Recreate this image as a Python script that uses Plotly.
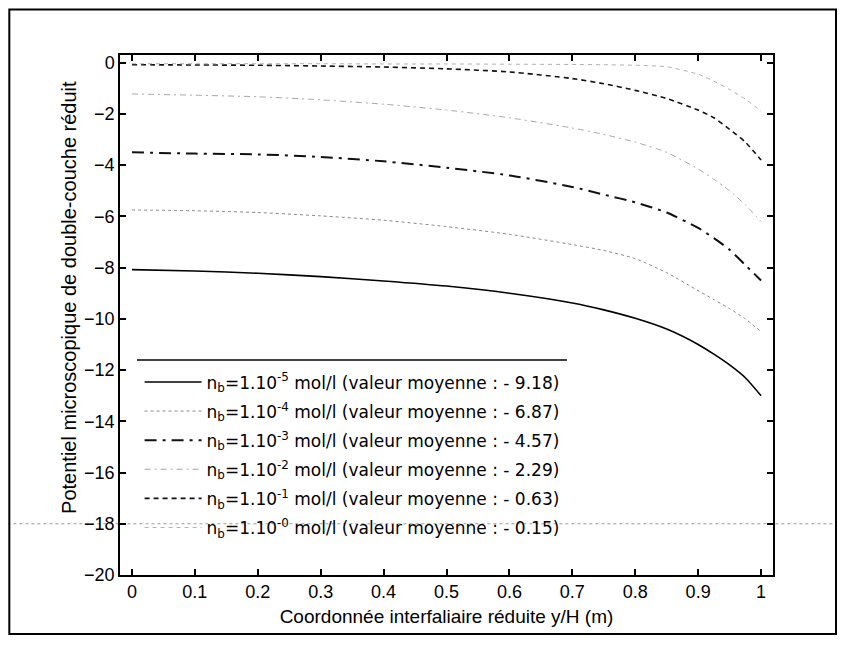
import plotly.graph_objects as go

# Reduced interfoliar coordinate y/H
x_vals = [0, 0.1, 0.2, 0.3, 0.4, 0.5, 0.6, 0.7, 0.75, 0.8, 0.85, 0.9, 0.925, 0.95, 0.975, 1.0]

# Reduced microscopic double-layer potential for each bulk concentration
pot_1e5 = [-8.08, -8.13, -8.22, -8.35, -8.52, -8.72, -9.0, -9.38, -9.65, -9.98, -10.4, -11.0, -11.38, -11.8, -12.3, -13.0]
pot_1e4 = [-5.75, -5.78, -5.85, -5.98, -6.15, -6.4, -6.7, -7.1, -7.33, -7.65, -8.2, -8.9, -9.25, -9.6, -10.0, -10.5]
pot_1e3 = [-3.5, -3.55, -3.58, -3.68, -3.85, -4.1, -4.4, -4.85, -5.15, -5.45, -5.85, -6.45, -6.85, -7.3, -7.9, -8.5]
pot_1e2 = [-1.22, -1.27, -1.33, -1.45, -1.62, -1.85, -2.15, -2.55, -2.8, -3.1, -3.5, -4.15, -4.55, -5.0, -5.55, -6.2]
pot_1e1 = [-0.08, -0.09, -0.1, -0.13, -0.17, -0.24, -0.36, -0.62, -0.82, -1.08, -1.4, -1.85, -2.15, -2.6, -3.1, -3.8]
pot_1e0 = [-0.04, -0.04, -0.04, -0.04, -0.05, -0.05, -0.06, -0.07, -0.08, -0.1, -0.16, -0.45, -0.72, -1.05, -1.42, -1.9]

exponents = ["-5", "-4", "-3", "-2", "-1", "-0"]
means = ["9.18", "6.87", "4.57", "2.29", "0.63", "0.15"]
series = [pot_1e5, pot_1e4, pot_1e3, pot_1e2, pot_1e1, pot_1e0]

x_ticks = [0, 0.1, 0.2, 0.3, 0.4, 0.5, 0.6, 0.7, 0.8, 0.9, 1]
x_ticktext = ["0", "0.1", "0.2", "0.3", "0.4", "0.5", "0.6", "0.7", "0.8", "0.9", "1"]
y_ticks = [0, -2, -4, -6, -8, -10, -12, -14, -16, -18, -20]

styles = [
    dict(color="#000000", width=1.6, dash="solid"),
    dict(color="#8a8a8a", width=1.0, dash="dot"),
    dict(color="#111111", width=2.0, dash="12px,6px,3px,6px"),
    dict(color="#a8a8a8", width=1.0, dash="6px,4px,2px,4px"),
    dict(color="#111111", width=1.6, dash="5px,4px"),
    dict(color="#b0b0b0", width=1.0, dash="4px,4px"),
]

fig = go.Figure()
for i, (vals, ex, mv, st) in enumerate(zip(series, exponents, means, styles)):
    name = f"n<sub>b</sub>=1.10<sup>{ex}</sup> mol/l (valeur moyenne : - {mv})"
    fig.add_trace(go.Scatter(
        x=x_vals, y=vals, mode="lines", name=name,
        line=dict(color=st["color"], width=st["width"], dash=st["dash"],
                  shape="spline", smoothing=0.6),
        legendgroup=f"g{i}",
    ))

font_family = "Arial, Liberation Sans, sans-serif"
legend_family = "DejaVu Sans, Verdana, sans-serif"

fig.update_layout(
    width=837, height=637, autosize=False,
    margin=dict(l=112, r=72, t=47, b=70),
    paper_bgcolor="white", plot_bgcolor="white",
    font=dict(family=font_family, size=16, color="black"),
    showlegend=True,
    legend=dict(
        x=0.03, y=0.405, xanchor="left", yanchor="top",
        bgcolor="rgba(0,0,0,0)", borderwidth=0,
        font=dict(size=17, family=legend_family),
        traceorder="grouped", tracegroupgap=4,
        itemwidth=57,
    ),
    xaxis=dict(
        range=[-0.019, 1.019], tickvals=x_ticks, ticktext=x_ticktext,
        ticks="inside", ticklen=6, tickwidth=1.5, tickcolor="black",
        showline=True, linecolor="black", linewidth=1.5, mirror="ticks",
        showgrid=False, zeroline=False,
        tickfont=dict(size=18),
        title=dict(text="Coordonnée interfaliaire réduite y/H (m)",
                   font=dict(size=19), standoff=8),
        automargin=False,
    ),
    yaxis=dict(
        range=[-20, 0.3], tickvals=y_ticks,
        ticks="inside", ticklen=6, tickwidth=1.5, tickcolor="black",
        showline=True, linecolor="black", linewidth=1.5, mirror="ticks",
        showgrid=False, zeroline=False,
        tickfont=dict(size=18),
        automargin=False,
    ),
)

# y-axis title (placed slightly above the axis centre, as in the original)
fig.add_annotation(
    text="Potentiel microscopique de double-couche réduit",
    xref="paper", yref="paper", x=-0.078, y=0.533,
    xanchor="center", yanchor="middle", textangle=-90, showarrow=False,
    font=dict(size=20, family=font_family, color="black"),
)

# legend box top border
fig.add_shape(type="line", xref="paper", yref="paper",
              x0=0.026, x1=0.6845, y0=0.4135, y1=0.4135,
              line=dict(color="black", width=1.5))
# outer frame of the figure
fig.add_shape(type="rect", xref="paper", yref="paper",
              x0=-0.1695, x1=1.0965, y0=-0.1135, y1=1.0875,
              line=dict(color="black", width=2))
# scan artefact line across the page
fig.add_shape(type="line", xref="paper", yref="y",
              x0=-0.2, x1=1.15, y0=-18, y1=-18,
              line=dict(color="#9a9a9a", width=1, dash="dot"), layer="below")

fig.write_html("out.html")
